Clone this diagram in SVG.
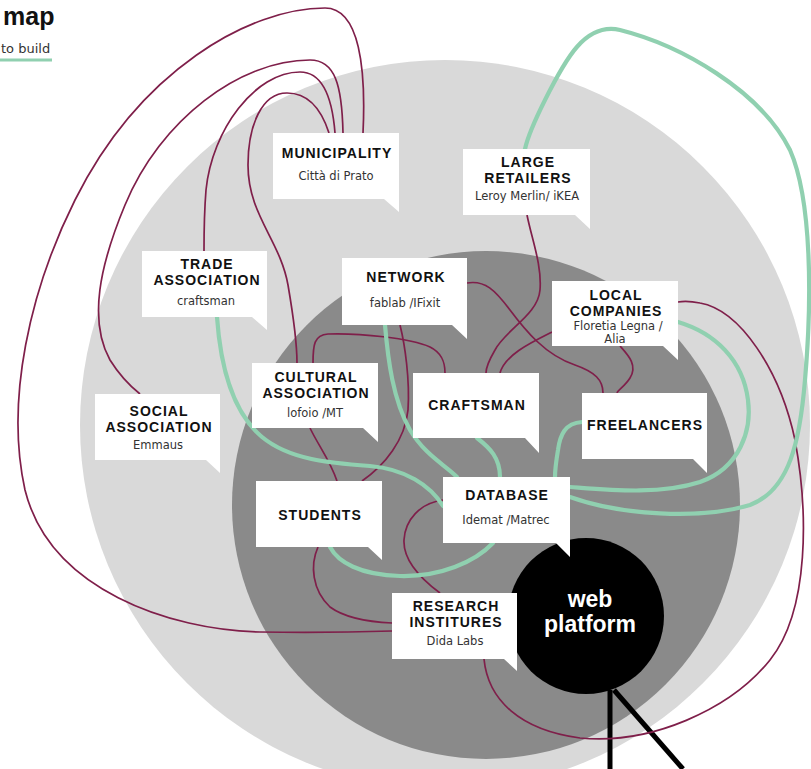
<svg xmlns="http://www.w3.org/2000/svg" width="811" height="769" viewBox="0 0 811 769">
<style>
.t{font-family:"Liberation Sans",Arial,sans-serif;font-weight:bold;font-size:14px;letter-spacing:1px;fill:#111;text-anchor:middle}
.s{font-family:"DejaVu Sans",sans-serif;font-size:11.5px;fill:#333;text-anchor:middle}
.box{fill:#fff}
.m{fill:none;stroke:#7f1f4a;stroke-width:1.7}
.g{fill:none;stroke:#90d0b0;stroke-width:4.2;stroke-linecap:round}
</style>
<rect width="811" height="769" fill="#fff"/>
<g id="background">
<circle cx="445" cy="425" r="365" fill="#d9d9d9"/>
<circle cx="486" cy="505" r="254" fill="#8a8a8a"/>
</g>
<g id="legend">
<text x="3" y="25" font-family="Liberation Sans,Arial,sans-serif" font-weight="bold" font-size="25" fill="#111">map</text>
<text x="1" y="53" font-family="DejaVu Sans,sans-serif" font-size="13" fill="#333">to build</text>
<line x1="0" y1="60" x2="52" y2="60" stroke="#90d0b0" stroke-width="3"/>
</g>
<g id="web-platform">
<line x1="610" y1="690" x2="610" y2="769" stroke="#000" stroke-width="5"/>
<line x1="614" y1="690" x2="683" y2="769" stroke="#000" stroke-width="5"/>
<circle cx="586" cy="616" r="78" fill="#000"/>
<text x="590" y="607" font-family="Liberation Sans,Arial,sans-serif" font-weight="bold" font-size="23" fill="#fff" text-anchor="middle">web</text>
<text x="590" y="632" font-family="Liberation Sans,Arial,sans-serif" font-weight="bold" font-size="23" fill="#fff" text-anchor="middle">platform</text>
</g>
<g id="connectors">
<path class="m" d="M363 133 C366 70 360 8 325 8 C250 8 140 70 75 200 C30 290 5 400 25 490 C50 590 170 630 260 632 C320 633 360 632 392 631"/>
<path class="m" d="M343 133 C342 85 335 60 310 60 C240 60 160 120 125 205 C100 265 88 320 110 360 C120 376 130 386 140 394"/>
<path class="m" d="M335 133 C332 95 322 72 300 72 C255 72 212 130 206 190 C204 215 204 235 204 251"/>
<path class="m" d="M329 133 C320 105 305 93 287 93 C262 93 248 125 248 165 C248 215 280 240 288 285 C294 320 297 345 297 363"/>
<path class="m" d="M527 215 C532 240 542 265 540 290 C538 315 505 330 495 350 C488 362 486 368 486 373"/>
<path class="m" d="M467 283 C485 280 495 290 510 310 C525 330 545 355 575 365 C595 372 603 380 603 393"/>
<path class="m" d="M552 332 C530 343 505 355 500 373"/>
<path class="m" d="M620 346 C628 355 638 365 630 378 C625 386 618 390 617 393"/>
<path class="m" d="M313 363 C313 345 314 335 328 334 C360 333 410 338 430 347 C442 353 445 362 445 373"/>
<path class="m" d="M400 325 C405 345 410 380 408 410 C405 440 385 465 362 481"/>
<path class="m" d="M310 428 C318 445 330 460 337 481"/>
<path class="m" d="M318 547 C310 565 312 590 330 607 C345 618 370 622 392 623"/>
<path class="m" d="M443 500 C420 503 405 520 404 540 C403 560 420 578 440 593"/>
<path class="m" d="M484 659 C488 700 520 730 580 738 C650 745 730 710 770 660 C810 610 808 510 795 440 C780 370 740 310 700 303 C690 301 684 301 678 302"/>
<path class="g" d="M217 317 C220 360 230 410 262 437 C290 460 330 463 370 466 C405 469 430 485 443 506"/>
<path class="g" d="M385 325 C388 360 393 400 410 430 C425 455 445 465 457 477"/>
<path class="g" d="M477 438 C490 448 500 458 500 477"/>
<path class="g" d="M582 422 C565 423 560 435 558 450 C556 462 555 470 555 477"/>
<path class="g" d="M570 487 C610 490 660 495 700 482 C740 468 752 430 748 400 C743 360 715 333 678 322"/>
<path class="g" d="M570 497 C620 515 700 520 750 505 C790 490 800 440 805 380 C812 300 812 200 790 150 C760 90 680 45 620 30 C585 22 565 60 545 100 C535 120 528 135 525 149"/>
<path class="g" d="M330 547 C338 562 360 575 400 576 C440 577 475 562 493 543"/>
</g>
<g id="municipality">
<path class="box" d="M273 133 H399 V212 L384 199 H273 Z"/>
<text class="t" x="337" y="158">MUNICIPALITY</text>
<text class="s" x="336" y="180">Città di Prato</text>
</g>
<g id="large-retailers">
<path class="box" d="M463 149 H590 V229 L575 215 H463 Z"/>
<text class="t" x="528" y="167">LARGE</text>
<text class="t" x="528" y="183">RETAILERS</text>
<text class="s" x="527" y="200">Leroy Merlin/ iKEA</text>
</g>
<g id="trade-association">
<path class="box" d="M142 251 H267 V330 L252 317 H142 Z"/>
<text class="t" x="207" y="269">TRADE</text>
<text class="t" x="207" y="285">ASSOCIATION</text>
<text class="s" x="206" y="305">craftsman</text>
</g>
<g id="network">
<path class="box" d="M342 258 H467 V339 L452 325 H342 Z"/>
<text class="t" x="406" y="282">NETWORK</text>
<text class="s" x="405" y="307">fablab /IFixit</text>
</g>
<g id="local-companies">
<path class="box" d="M552 281 H678 V360 L663 346 H552 Z"/>
<text class="t" x="616" y="300">LOCAL</text>
<text class="t" x="616" y="316">COMPANIES</text>
<text class="s" x="618" y="330" font-size="11">Floretia Legna /</text>
<text class="s" x="615" y="343" font-size="11">Alia</text>
</g>
<g id="cultural-association">
<path class="box" d="M252 363 H378 V442 L363 428 H252 Z"/>
<text class="t" x="316" y="382">CULTURAL</text>
<text class="t" x="316" y="398">ASSOCIATION</text>
<text class="s" x="315" y="417">lofoio /MT</text>
</g>
<g id="social-association">
<path class="box" d="M95 394 H220 V473 L206 460 H95 Z"/>
<text class="t" x="159" y="416">SOCIAL</text>
<text class="t" x="159" y="432">ASSOCIATION</text>
<text class="s" x="158" y="449">Emmaus</text>
</g>
<g id="craftsman">
<path class="box" d="M413 373 H539 V453 L525 438 H413 Z"/>
<text class="t" x="477" y="410">CRAFTSMAN</text>
</g>
<g id="freelancers">
<path class="box" d="M582 393 H707 V473 L693 459 H582 Z"/>
<text class="t" x="645" y="430">FREELANCERS</text>
</g>
<g id="students">
<path class="box" d="M256 481 H382 V560 L368 547 H256 Z"/>
<text class="t" x="320" y="520">STUDENTS</text>
</g>
<g id="database">
<path class="box" d="M443 477 H570 V557 L556 543 H443 Z"/>
<text class="t" x="507" y="500">DATABASE</text>
<text class="s" x="506" y="524">Idemat /Matrec</text>
</g>
<g id="research-institures">
<path class="box" d="M392 593 H517 V671 L504 659 H392 Z"/>
<text class="t" x="456" y="611">RESEARCH</text>
<text class="t" x="456" y="627">INSTITURES</text>
<text class="s" x="455" y="645">Dida Labs</text>
</g>
</svg>
